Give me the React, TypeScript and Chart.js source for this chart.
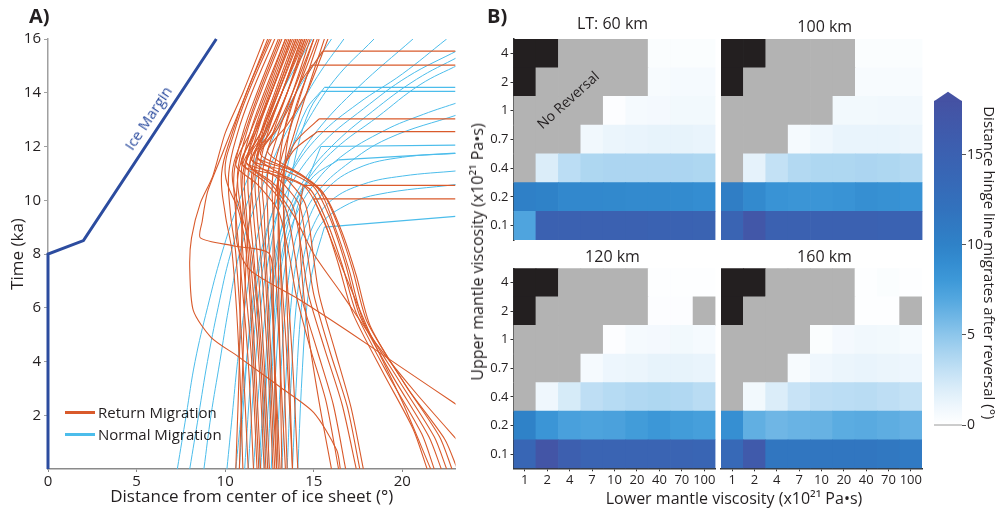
import React, { useEffect, useRef } from "react";
import { Chart, registerables } from "chart.js";

Chart.register(...registerables);

const FONT = "'Open Sans', 'DejaVu Sans', sans-serif";
const TEXT = "#231f20";
const ORANGE = "#d95a2b";
const BLUE = "#4cbdeb";
const MARGIN_BLUE = "#2c4c9f";
const GREY_CELL = "#b3b3b3";
const BLACK_CELL = "#231f20";

Chart.defaults.font.family = FONT;
Chart.defaults.color = TEXT;

// ---------------- Panel A data: [distance (deg), time (ka)] ----------------
const xTicksA = [0, 5, 10, 15, 20];
const yTicksA = [2, 4, 6, 8, 10, 12, 14, 16];

const iceMargin = [[0, 0], [0, 8], [2, 8.5], [9.5, 16]];

const returnBundle = [
  [[12.5, 16], [11.2, 14], [10.4, 12.5], [9.8, 11], [10.0, 9.5], [10.4, 8], [10.8, 4], [11.0, 0]],
  [[12.8, 16], [11.5, 14], [10.7, 12.5], [10.2, 11], [10.3, 9.5], [10.6, 8], [11.0, 4], [11.3, 0]],
  [[13.0, 16], [11.8, 14], [11.0, 12.5], [10.5, 11], [10.6, 9.5], [10.8, 8], [11.3, 4], [11.6, 0]],
  [[13.2, 16], [12.0, 14], [11.2, 12.5], [10.7, 11], [10.9, 9.5], [11.0, 8], [11.5, 4], [11.8, 0]],
  [[13.4, 16], [12.2, 14], [11.4, 12.5], [10.9, 11], [11.1, 9.5], [11.3, 8], [11.7, 4], [12.0, 0]],
  [[13.5, 16], [12.4, 14], [11.6, 12.5], [11.1, 11], [11.2, 9.5], [11.4, 8], [11.9, 4], [12.2, 0]],
  [[13.7, 16], [12.6, 14], [11.8, 12.5], [11.3, 11], [11.4, 9.5], [11.6, 8], [12.1, 4], [12.4, 0]],
  [[13.9, 16], [12.8, 14], [12.0, 12.5], [11.5, 11], [11.6, 9.5], [11.8, 8], [12.2, 4], [12.5, 0]],
  [[14.1, 16], [13.0, 14], [12.2, 12.5], [11.7, 11], [11.8, 9.5], [12.0, 8], [12.4, 4], [12.7, 0]],
  [[14.3, 16], [13.2, 14], [12.4, 12.5], [11.9, 11], [12.0, 9.5], [12.2, 8], [12.5, 4], [12.8, 0]],
  [[14.5, 16], [13.5, 14], [12.7, 12.5], [12.1, 11], [12.2, 9.5], [12.3, 8], [12.6, 4], [12.9, 0]],
  [[14.8, 16], [13.8, 14], [13.0, 12.5], [12.4, 11], [12.4, 9.5], [12.5, 8], [12.8, 4], [13.1, 0]],
  [[15.0, 16], [14.0, 14], [13.3, 12.5], [12.7, 11], [12.7, 9.5], [12.8, 8], [13.1, 4], [13.4, 0]],
  [[15.3, 16], [14.3, 14], [13.6, 12.5], [13.0, 11], [13.0, 9.5], [13.1, 8], [13.5, 4], [13.8, 0]],
  [[15.6, 16], [14.6, 14], [13.9, 12.5], [13.3, 11], [13.3, 9.5], [13.4, 8], [13.8, 4], [14.1, 0]],
  [[12.6, 16], [11.3, 14], [10.5, 12.5], [10.0, 11], [10.8, 9.5], [11.2, 8], [11.6, 4], [11.9, 0]],
  [[13.1, 16], [11.9, 14], [11.1, 12.5], [10.4, 11], [10.9, 9.5], [11.5, 8], [12.0, 4], [12.3, 0]],
  [[13.6, 16], [12.5, 14], [11.7, 12.5], [11.0, 11], [11.0, 9.5], [10.9, 8], [10.8, 4], [10.6, 0]],
  [[14.0, 16], [12.9, 14], [12.1, 12.5], [11.6, 11], [11.4, 9.5], [11.2, 8], [11.0, 4], [10.8, 0]],
];

const returnSwingMid = [
  [[13.4, 16], [12.3, 14], [11.4, 12.5], [10.6, 11.3], [11.8, 10.6], [13.0, 9.6], [13.6, 8.0], [14.0, 6.5], [14.8, 4.5], [15.7, 2.5], [16.4, 0]],
  [[13.7, 16], [12.6, 14], [11.7, 12.5], [10.9, 11.4], [12.2, 10.7], [13.4, 9.7], [13.9, 8.1], [14.3, 6.4], [15.2, 4.4], [16.1, 2.4], [16.8, 0]],
  [[14.0, 16], [12.9, 14], [12.0, 12.5], [11.2, 11.4], [12.6, 10.7], [13.8, 9.8], [14.3, 8.2], [14.7, 6.5], [15.6, 4.5], [16.6, 2.4], [17.4, 0]],
  [[14.3, 16], [13.2, 14], [12.3, 12.5], [11.5, 11.5], [13.0, 10.8], [14.2, 9.8], [14.6, 8.2], [15.0, 6.5], [15.9, 4.4], [16.9, 2.3], [17.6, 0]],
  [[14.6, 16], [13.5, 14], [12.6, 12.6], [11.8, 11.6], [13.3, 10.9], [14.5, 9.9], [14.9, 8.3], [15.3, 6.5], [16.2, 4.4], [17.1, 2.3], [17.8, 0]],
];

const returnSwingFar = [
  [[14.2, 16], [13.0, 14], [12.0, 12.5], [11.0, 11.3], [12.5, 11.0], [14.5, 10.5], [15.6, 9.2], [16.4, 7.6], [17.2, 5.8], [18.9, 3.6], [20.6, 1.5], [21.4, 0]],
  [[14.5, 16], [13.2, 14], [12.2, 12.5], [11.2, 11.4], [13.0, 11.0], [14.8, 10.4], [15.8, 9.1], [16.6, 7.6], [17.4, 5.8], [19.2, 3.5], [21.1, 1.3], [21.8, 0]],
  [[14.7, 16], [13.5, 14], [12.5, 12.5], [11.5, 11.5], [13.4, 11.1], [15.0, 10.5], [16.0, 9.2], [16.8, 7.6], [17.6, 5.7], [19.5, 3.4], [21.5, 1.2], [22.2, 0]],
  [[15.0, 16], [13.8, 14], [12.8, 12.6], [11.8, 11.6], [13.8, 11.1], [15.3, 10.4], [16.2, 9.0], [17.0, 7.4], [17.8, 5.5], [19.8, 3.3], [21.8, 1.2], [22.5, 0]],
  [[15.2, 16], [14.0, 14], [13.0, 12.7], [12.0, 11.7], [14.2, 11.0], [15.5, 10.3], [16.4, 9.0], [17.2, 7.4], [18.0, 5.5], [20.1, 3.2], [22.1, 1.2], [22.8, 0]],
  [[15.8, 16], [14.6, 14], [13.5, 12.8], [12.4, 11.8], [14.4, 10.9], [15.7, 10.1], [16.6, 8.8], [17.4, 7.2], [18.2, 5.3], [20.3, 3.0], [22.4, 1.1], [23.1, 0]],
];

const returnDiagonal = [
  [[13.8, 16], [12.6, 14], [11.6, 12.5], [10.8, 11.2], [10.6, 9.5], [10.7, 8.3], [11.4, 7.4], [14.2, 6.3], [17.0, 5.1], [19.9, 3.8], [23.5, 2.2]],
  [[14.4, 16], [13.2, 14], [12.2, 12.5], [11.4, 11.3], [12.6, 10.6], [13.9, 9.4], [15.0, 8.0], [16.6, 6.5], [18.6, 4.6], [20.8, 2.8], [23.6, 0.7]],
  [[12.2, 16], [11.0, 14], [10.0, 12.5], [9.3, 10.9], [8.6, 9.9], [8.1, 8.6], [8.0, 7.5], [8.2, 5.9], [9.2, 4.9], [10.7, 4.2], [13.1, 3.05], [15.0, 2.1], [16.3, 0.7], [16.5, 0]],
  [[12.4, 16], [11.2, 14], [10.3, 12.5], [9.7, 11.5], [9.0, 10.3], [8.7, 9.2], [8.6, 8.6], [10.5, 8.3], [12.5, 8.0], [12.7, 6], [12.8, 3], [12.9, 0]],
];

// last two points of each path are the horizontal jump
const returnJumps = [
  [[13.8, 0], [13.6, 4], [13.4, 8], [13.3, 10.5], [13.6, 12.5], [14.6, 14.6], [15.5, 15.55], [23, 15.55]],
  [[13.5, 0], [13.3, 4], [13.1, 8], [13.0, 10.5], [13.3, 12.5], [14.1, 14.2], [14.9, 15.03], [23, 15.03]],
  [[13.2, 0], [13.1, 4], [13.0, 8], [13.1, 10.5], [13.9, 12.1], [15.3, 13.03], [23, 13.03]],
  [[13.0, 0], [12.8, 4], [12.7, 8], [12.9, 10.5], [13.8, 11.8], [15.2, 12.55], [23, 12.55]],
  [[16.0, 0], [15.3, 2.5], [14.7, 5], [14.3, 7.5], [14.2, 9.5], [14.4, 10.55], [23, 10.55]],
  [[21.6, 0], [20.0, 2.5], [18.2, 5], [16.6, 7.5], [15.7, 9.0], [15.0, 10.05], [23, 10.05]],
];

const normalCurves = [
  [[7.3, 0], [7.8, 2], [8.3, 4], [9.0, 6], [9.8, 8], [10.8, 10], [12.0, 12], [13.2, 14], [14.9, 16]],
  [[8.0, 0], [8.5, 2], [9.0, 4], [9.6, 6], [10.3, 8], [11.3, 10], [12.5, 12], [14.0, 14], [16.0, 16]],
  [[8.8, 0], [9.2, 2], [9.7, 4], [10.2, 6], [10.8, 8], [11.8, 10], [12.9, 11.8], [14.0, 13.2], [15.2, 14.6], [16.7, 16]],
  [[10.1, 0], [10.4, 2], [10.7, 4], [11.1, 6], [11.6, 8], [12.4, 10], [13.3, 11.4], [14.5, 12.8], [16.2, 14.5], [18.4, 16]],
  [[10.6, 0], [10.9, 2], [11.2, 4], [11.6, 6], [12.1, 8], [12.8, 9.8], [13.8, 11.2], [15.2, 12.6], [17.5, 14.2], [20.6, 16]],
  [[10.8, 0], [11.1, 3], [11.5, 6], [12.0, 8], [12.7, 9.6], [13.7, 11], [15.3, 12.4], [17.5, 13.6], [20.0, 14.7], [22.5, 16]],
  [[11.1, 0], [11.4, 3], [11.8, 6], [12.3, 8], [13.0, 9.6], [14.0, 10.9], [15.6, 12.2], [17.8, 13.4], [20.3, 14.6], [23.2, 15.6]],
  [[11.6, 0], [11.9, 3], [12.3, 6], [12.8, 8], [13.5, 9.5], [14.5, 10.8], [16.0, 12.0], [18.3, 13.3], [20.8, 14.5], [23.2, 15.35]],
  [[12.0, 0], [12.3, 3], [12.6, 6], [13.0, 8], [13.6, 9.4], [14.6, 10.7], [16.2, 11.9], [18.6, 13.1], [21.0, 14.3], [23.2, 15.05]],
  [[12.4, 0], [12.6, 3], [12.9, 6], [13.3, 8], [13.9, 9.3], [14.9, 10.5], [16.5, 11.6], [19.0, 12.6], [21.2, 13.2], [23.2, 13.65]],
  [[12.9, 0], [13.1, 3], [13.4, 6], [13.8, 8], [14.3, 9.2], [15.2, 10.3], [16.8, 11.3], [19.2, 12.3], [23.2, 13.2]],
  [[13.2, 0], [13.4, 3], [13.7, 6], [14.1, 8], [14.7, 9.3], [15.7, 10.4], [17.5, 11.2], [20.0, 11.6], [23.2, 11.75]],
  [[13.5, 0], [13.7, 3], [14.0, 6], [14.4, 7.8], [15.0, 9.1], [16.0, 10.0], [17.8, 10.6], [20.0, 10.9], [23.2, 11.1]],
  [[13.8, 0], [14.0, 3], [14.3, 6], [14.7, 7.8], [15.3, 9.0], [16.5, 9.7], [18.5, 10.2], [23.2, 10.6]],
];

const normalJumps = [
  [[11.3, 0], [11.6, 3], [12.0, 6], [12.5, 8], [13.1, 10], [13.8, 12], [14.6, 13.4], [15.4, 14.05], [23, 14.05]],
  [[11.9, 0], [12.2, 3], [12.5, 6], [12.9, 8], [13.5, 10], [14.1, 12], [14.8, 13.4], [15.6, 14.2], [23, 14.2]],
  [[12.6, 0], [12.8, 3], [13.1, 6], [13.5, 8], [14.1, 9.8], [14.8, 11.0], [15.4, 12.0], [23, 12.05]],
  [[12.2, 0], [12.5, 3], [12.8, 6], [13.2, 8], [13.9, 9.8], [15.0, 10.9], [16.4, 11.5], [23, 11.75]],
  [[14.1, 0], [14.3, 3], [14.6, 6], [15.0, 7.6], [15.6, 9.0], [23, 9.4]],
];

// ---------------- Panel B data ----------------
const lowerVisc = ["1", "2", "4", "7", "10", "20", "40", "70", "100"];
const upperVisc = ["4", "2", "1", "0.7", "0.4", "0.2", "0.1"]; // top to bottom
const NR = -1; // no reversal (grey)
const NA = -2; // black cells

const lt60 = [
  [NA, NA, NR, NR, NR, NR, 0.3, 0.3, 0.3],
  [NA, NR, NR, NR, NR, NR, 0.5, 0.6, 0.6],
  [NR, NR, NR, NR, 0.2, 0.6, 0.7, 0.8, 0.8],
  [NR, NR, NR, 0.9, 1.2, 1.3, 1.4, 1.4, 1.3],
  [NR, 2.0, 3.3, 3.8, 3.9, 3.9, 3.9, 3.9, 3.8],
  [10.2, 10.0, 9.5, 9.5, 9.4, 9.3, 9.3, 9.2, 9.0],
  [7.2, 15.0, 15.0, 15.0, 15.0, 15.0, 14.8, 14.8, 14.7],
];
const lt100 = [
  [NA, NA, NR, NR, NR, NR, 0.3, 0.3, 0.3],
  [NA, NR, NR, NR, NR, NR, 0.5, 0.5, 0.5],
  [NR, NR, NR, NR, NR, 0.8, 0.8, 0.9, 0.9],
  [NR, NR, NR, 0.6, 1.0, 1.3, 1.3, 1.3, 1.2],
  [NR, 1.5, 3.0, 3.6, 3.8, 3.8, 3.9, 3.8, 3.6],
  [10.5, 9.3, 8.5, 8.3, 8.3, 8.5, 8.8, 8.7, 8.5],
  [14.5, 17.0, 15.0, 15.0, 15.0, 15.0, 15.0, 14.8, 14.8],
];
const lt120 = [
  [NA, NA, NR, NR, NR, NR, 0.1, 0.1, 0.1],
  [NA, NR, NR, NR, NR, NR, 0.2, 0.2, NR],
  [NR, NR, NR, NR, 0.2, 0.6, 0.7, 0.8, 0.6],
  [NR, NR, NR, 0.6, 1.1, 1.2, 1.4, 1.4, 1.3],
  [NR, 1.0, 2.2, 3.2, 3.5, 3.7, 3.8, 3.7, 3.4],
  [10.0, 8.3, 7.5, 7.3, 7.4, 7.8, 8.2, 7.8, 7.6],
  [14.0, 17.5, 15.5, 14.5, 14.5, 14.5, 14.5, 14.5, 14.3],
];
const lt160 = [
  [NA, NA, NR, NR, NR, NR, 0.1, 0.3, 0.1],
  [NA, NR, NR, NR, NR, NR, 0.1, 0.1, NR],
  [NR, NR, NR, NR, 0.3, 0.7, 0.9, 0.8, 0.6],
  [NR, NR, NR, 0.5, 1.0, 1.2, 1.3, 1.2, 1.1],
  [NR, 0.8, 2.0, 2.8, 3.2, 3.3, 3.4, 3.2, 3.0],
  [8.8, 6.5, 6.0, 6.2, 6.3, 6.7, 6.8, 6.6, 6.4],
  [13.5, 16.5, 11.5, 11.5, 11.5, 11.5, 11.5, 11.2, 11.0],
];

const cbMax = 18;
const cbTicks = [0, 5, 10, 15];
const colorStops: [number, string][] = [
  [0, "#ffffff"],
  [1, "#eff7fd"],
  [2, "#dbedf9"],
  [3, "#c3e1f5"],
  [4, "#a9d4f0"],
  [5, "#8dc6eb"],
  [6, "#6fb6e5"],
  [7, "#53a7df"],
  [8, "#3e99d8"],
  [9, "#348dd1"],
  [10, "#2f82c8"],
  [12, "#3272bd"],
  [14, "#3866b5"],
  [16, "#3e5cad"],
  [18, "#4552a3"],
];

function hexToRgb(h: string) {
  const n = parseInt(h.slice(1), 16);
  return [(n >> 16) & 255, (n >> 8) & 255, n & 255];
}
function valueColor(v: number) {
  if (v <= colorStops[0][0]) return colorStops[0][1];
  for (let i = 1; i < colorStops.length; i++) {
    const [v1, c1] = colorStops[i];
    const [v0, c0] = colorStops[i - 1];
    if (v <= v1) {
      const t = (v - v0) / (v1 - v0);
      const a = hexToRgb(c0);
      const b = hexToRgb(c1);
      const m = a.map((av, k) => Math.round(av + (b[k] - av) * t));
      return `rgb(${m[0]},${m[1]},${m[2]})`;
    }
  }
  return colorStops[colorStops.length - 1][1];
}
function cellColor(v: number) {
  if (v === NA) return BLACK_CELL;
  if (v === NR) return GREY_CELL;
  return valueColor(v);
}

// ---------------- Chart configs ----------------
const toXY = (pts: number[][]) => pts.map(([x, y]) => ({ x, y }));

function lineDs(pts: number[][], color: string, width: number, tension: number) {
  return {
    data: toXY(pts),
    borderColor: color,
    borderWidth: width,
    showLine: true,
    pointRadius: 0,
    fill: false,
    tension,
  };
}

function panelAConfig() {
  const datasets: any[] = [];
  datasets.push({ ...lineDs(iceMargin, MARGIN_BLUE, 3, 0), clip: false });
  returnBundle.forEach((c) => datasets.push(lineDs(c, ORANGE, 1.1, 0.4)));
  [...returnSwingMid, ...returnSwingFar, ...returnDiagonal].forEach((c) =>
    datasets.push(lineDs(c, ORANGE, 1.1, 0.25))
  );
  returnJumps.forEach((c) => {
    datasets.push(lineDs(c.slice(0, -1), ORANGE, 1.1, 0.3));
    datasets.push(lineDs(c.slice(-2), ORANGE, 1.3, 0));
  });
  normalCurves.forEach((c) => datasets.push(lineDs(c, BLUE, 1, 0.4)));
  normalJumps.forEach((c) => {
    datasets.push(lineDs(c.slice(0, -1), BLUE, 1, 0.35));
    datasets.push(lineDs(c.slice(-2), BLUE, 1.2, 0));
  });
  return {
    type: "scatter",
    data: { datasets },
    options: {
      animation: false,
      responsive: false,
      events: [],
      layout: { padding: { left: 0, right: 14.5, top: 39, bottom: 0 } },
      plugins: { legend: { display: false }, tooltip: { enabled: false } },
      scales: {
        x: {
          type: "linear",
          min: 0,
          max: 23,
          afterBuildTicks: (s: any) => {
            s.ticks = xTicksA.map((value) => ({ value }));
          },
          afterFit: (s: any) => {
            s.height = 46;
          },
          grid: { drawOnChartArea: false, tickLength: 3, color: "#8a8a8a" },
          border: { color: "#8a8a8a", width: 1.5 },
          ticks: { padding: 1, font: { size: 15 }, color: TEXT, maxRotation: 0 },
          title: {
            display: true,
            text: "Distance from center of ice sheet (°)",
            font: { size: 17 },
            color: TEXT,
            padding: { top: 0, bottom: 8 },
          },
        },
        y: {
          type: "linear",
          min: 0,
          max: 16,
          afterBuildTicks: (s: any) => {
            s.ticks = yTicksA.map((value) => ({ value }));
          },
          afterFit: (s: any) => {
            s.width = 48;
          },
          grid: { drawOnChartArea: false, tickLength: 4, color: "#a0a0a0" },
          border: { color: "#a0a0a0", width: 1.5 },
          ticks: { padding: 3, font: { size: 15 }, color: TEXT },
          title: {
            display: true,
            text: "Time (ka)",
            font: { size: 17 },
            color: TEXT,
            padding: { top: 8, bottom: 0 },
          },
        },
      },
    },
  };
}

type HMSpec = {
  values: number[][];
  title: string;
  showX: boolean;
  showY: boolean;
  pad: { left: number; right: number; top: number; bottom: number };
  titleOffset: number;
  titleDx: number;
};

function heatmapConfig(spec: HMSpec) {
  const rows = [...spec.values].reverse(); // bottom row first
  const titlePlugin = {
    id: "panelTitle",
    afterDraw(chart: any) {
      const { ctx, chartArea } = chart;
      ctx.save();
      ctx.font = `16px ${FONT}`;
      ctx.fillStyle = TEXT;
      ctx.textAlign = "center";
      ctx.textBaseline = "middle";
      ctx.fillText(spec.title, (chartArea.left + chartArea.right) / 2 + spec.titleDx, chartArea.top - spec.titleOffset);
      ctx.restore();
    },
  };
  return {
    type: "bar",
    data: {
      labels: lowerVisc,
      datasets: rows.map((row, i) => ({
        label: upperVisc[upperVisc.length - 1 - i],
        data: row.map(() => 1),
        backgroundColor: row.map(cellColor),
        borderWidth: 0,
        barPercentage: 1,
        categoryPercentage: 1,
      })),
    },
    plugins: [titlePlugin],
    options: {
      animation: false,
      responsive: false,
      events: [],
      layout: { padding: spec.pad },
      plugins: { legend: { display: false }, tooltip: { enabled: false } },
      scales: {
        x: {
          stacked: true,
          display: spec.showX,
          afterFit: (s: any) => {
            s.height = spec.showX ? 28 : 0;
          },
          grid: { drawOnChartArea: false, tickLength: 3, color: "#333", offset: false },
          border: { color: "#333", width: 1.5 },
          ticks: { padding: 1, font: { size: 13 }, color: TEXT, maxRotation: 0, autoSkip: false },
        },
        y: {
          stacked: true,
          display: spec.showY,
          min: 0,
          max: upperVisc.length,
          afterBuildTicks: (s: any) => {
            s.ticks = upperVisc.map((_, i) => ({ value: i + 0.5 }));
          },
          afterFit: (s: any) => {
            s.width = spec.showY ? 36 : 0;
          },
          grid: { drawOnChartArea: false, tickLength: 3, color: "#333" },
          border: { color: "#333", width: 1.5 },
          ticks: {
            padding: 2,
            font: { size: 13 },
            color: TEXT,
            callback: (v: number) => upperVisc[upperVisc.length - 1 - Math.floor(v)],
          },
        },
      },
    },
  };
}

function colorbarConfig() {
  const arrowPlugin = {
    id: "cbArrow",
    afterDatasetsDraw(chart: any) {
      const { ctx, chartArea, scales } = chart;
      const yTop = scales.y.getPixelForValue(cbMax);
      const y0 = scales.y.getPixelForValue(0);
      ctx.save();
      ctx.fillStyle = colorStops[colorStops.length - 1][1];
      ctx.beginPath();
      ctx.moveTo(chartArea.left, yTop + 0.5);
      ctx.lineTo((chartArea.left + chartArea.right) / 2, yTop - 9);
      ctx.lineTo(chartArea.right, yTop + 0.5);
      ctx.closePath();
      ctx.fill();
      ctx.strokeStyle = "#9a9a9a";
      ctx.lineWidth = 1;
      ctx.beginPath();
      ctx.moveTo(chartArea.left, y0);
      ctx.lineTo(chartArea.right, y0);
      ctx.stroke();
      ctx.restore();
    },
  };
  return {
    type: "bar",
    data: {
      labels: [""],
      datasets: [
        {
          data: [[0, cbMax]],
          borderWidth: 0,
          barPercentage: 1,
          categoryPercentage: 1,
          backgroundColor: (c: any) => {
            const chart = c.chart;
            if (!chart.chartArea) return colorStops[colorStops.length - 1][1];
            const y = chart.scales.y;
            const g = chart.ctx.createLinearGradient(0, y.getPixelForValue(0), 0, y.getPixelForValue(cbMax));
            colorStops.forEach(([v, col]) => g.addColorStop(v / cbMax, col));
            return g;
          },
        },
      ],
    },
    plugins: [arrowPlugin],
    options: {
      animation: false,
      responsive: false,
      events: [],
      layout: { padding: { left: 9, right: 6, top: 30.7, bottom: 25 } },
      plugins: { legend: { display: false }, tooltip: { enabled: false } },
      scales: {
        x: { display: false },
        y: {
          position: "right",
          min: 0,
          max: cbMax,
          afterBuildTicks: (s: any) => {
            s.ticks = cbTicks.map((value) => ({ value }));
          },
          afterFit: (s: any) => {
            s.width = 40;
          },
          grid: { drawOnChartArea: false, tickLength: 4, color: "#555" },
          border: { display: false },
          ticks: { padding: 1, font: { size: 14 }, color: TEXT },
          title: {
            display: true,
            text: "Distance hinge line migrates after reversal (°)",
            font: { size: 15 },
            color: TEXT,
            padding: { top: 5, bottom: 0 },
          },
        },
      },
    },
  };
}

// ---------------- Components ----------------
function ChartBox(props: { left: number; top: number; width: number; height: number; make: () => any }) {
  const { left, top, width, height, make } = props;
  const ref = useRef<HTMLCanvasElement | null>(null);
  useEffect(() => {
    if (!ref.current) return;
    const chart = new Chart(ref.current, make());
    return () => chart.destroy();
  }, []);
  return (
    <canvas
      ref={ref}
      width={width}
      height={height}
      style={{ position: "absolute", left, top, width, height }}
    />
  );
}

function Label(props: {
  x: number;
  y: number;
  text: string;
  size?: number;
  rotate?: number;
  color?: string;
  weight?: number;
  alignLeft?: boolean;
}) {
  const { x, y, text, size = 16, rotate = 0, color = TEXT, weight = 400, alignLeft = false } = props;
  return (
    <div
      style={{
        position: "absolute",
        left: x,
        top: y,
        transform: `translate(${alignLeft ? "0" : "-50%"}, -50%) rotate(${rotate}deg)`,
        fontFamily: FONT,
        fontSize: size,
        fontWeight: weight,
        color,
        whiteSpace: "nowrap",
        lineHeight: 1,
      }}
    >
      {text}
    </div>
  );
}

const heatmaps: { box: [number, number, number, number]; spec: HMSpec }[] = [
  {
    box: [470, 0, 250, 250],
    spec: { values: lt60, title: "LT: 60 km", showX: false, showY: true, pad: { left: 7.5, right: 4.5, top: 39, bottom: 10 }, titleOffset: 15, titleDx: -2 },
  },
  {
    box: [716, 0, 212, 250],
    spec: { values: lt100, title: "100 km", showX: false, showY: false, pad: { left: 5, right: 5.5, top: 39, bottom: 10 }, titleOffset: 11.5, titleDx: 3 },
  },
  {
    box: [470, 250, 250, 265],
    spec: { values: lt120, title: "120 km", showX: true, showY: true, pad: { left: 7.5, right: 4.5, top: 18.3, bottom: 18.7 }, titleOffset: 11.3, titleDx: -2 },
  },
  {
    box: [716, 250, 212, 265],
    spec: { values: lt160, title: "160 km", showX: true, showY: false, pad: { left: 5, right: 6, top: 18.3, bottom: 18.7 }, titleOffset: 11.3, titleDx: 3 },
  },
];

export default function App() {
  return (
    <div
      style={{
        position: "absolute",
        left: 0,
        top: 0,
        width: 1008,
        height: 515,
        background: "#fff",
        overflow: "hidden",
      }}
    >
      <ChartBox left={0} top={0} width={470} height={515} make={panelAConfig} />
      {heatmaps.map((h, i) => (
        <ChartBox key={i} left={h.box[0]} top={h.box[1]} width={h.box[2]} height={h.box[3]} make={() => heatmapConfig(h.spec)} />
      ))}
      <ChartBox left={925} top={70} width={83} height={380} make={colorbarConfig} />

      <Label x={29} y={16} text="A)" size={20} weight={700} alignLeft />
      <Label x={487} y={16} text="B)" size={20} weight={700} alignLeft />
      <Label x={148} y={118} text="Ice Margin" size={15} rotate={-56.6} color={MARGIN_BLUE} />
      <Label x={568} y={100} text="No Reversal" size={14} rotate={-42} />

      <div style={{ position: "absolute", left: 65, top: 411, width: 30, height: 3, background: ORANGE }} />
      <Label x={98} y={412} text="Return Migration" size={15} alignLeft />
      <div style={{ position: "absolute", left: 65, top: 433, width: 30, height: 3, background: BLUE }} />
      <Label x={98} y={434} text="Normal Migration" size={15} alignLeft />

      <Label x={477} y={252} text="Upper mantle viscosity (x10²¹ Pa•s)" size={16} rotate={-90} />
      <Label x={734} y={498} text="Lower mantle viscosity (x10²¹ Pa•s)" size={16} />
    </div>
  );
}
